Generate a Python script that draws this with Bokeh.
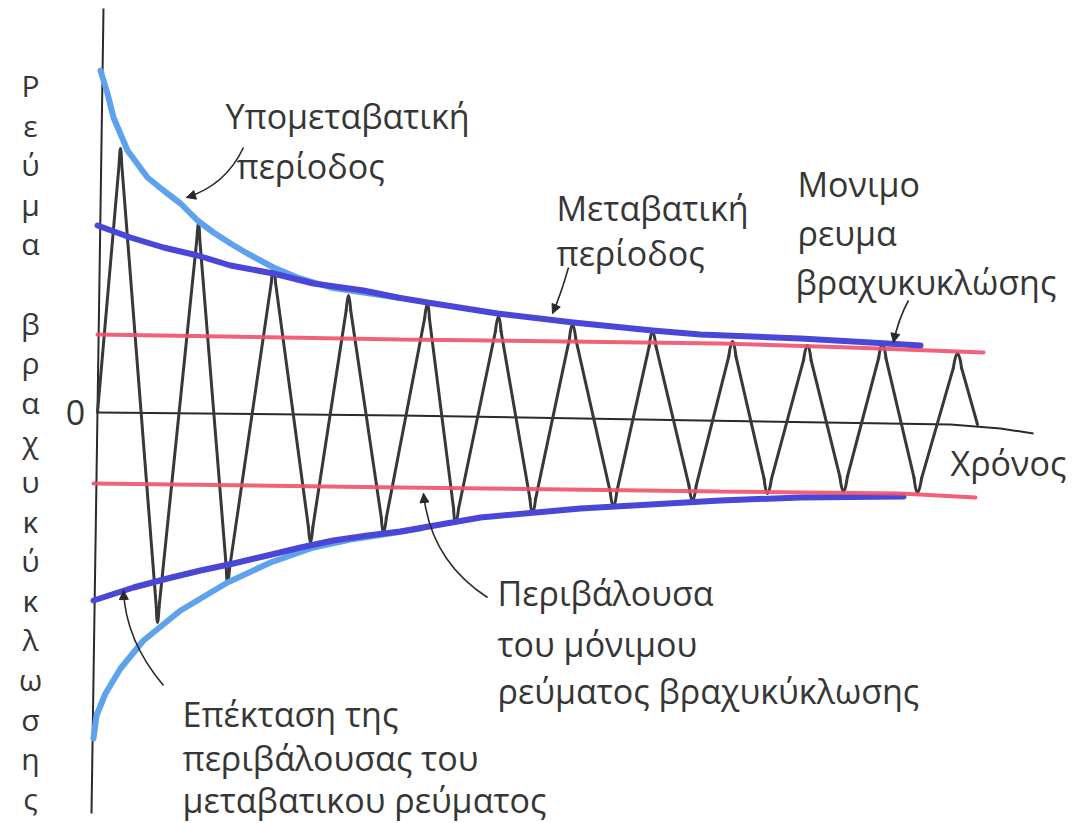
import math
from bokeh.plotting import figure
from bokeh.models import Range1d, Arrow, NormalHead
from bokeh.core.properties import value
from bokeh.embed import file_html
from bokeh.resources import INLINE

# ---- data (time units, current units; 0 = origin of the axes) ----
wave_t = [0, 23, 60, 101, 130, 176, 213, 251, 286, 330, 358, 401, 435, 475, 516,
          555, 595, 635, 670, 710, 746, 785, 820, 860, 880]
wave_i = [0, 264, -210, 189, -170, 145, -130, 117, -120, 109, -111, 96, -101, 88, -94,
          81, -88, 71, -81, 67, -79, 69, -80, 59, -12]

sub_up_t = [3, 10, 16, 30, 50, 66, 83, 100, 116, 133, 150, 176, 200, 233, 266, 300]
sub_up_i = [342, 319, 295, 262, 235, 222, 209, 192, 180, 169, 159, 145, 135, 125, 120, 115]

sub_lo_t = [-4, -1, 8, 23, 46, 83, 130, 173, 216, 253, 286, 323]
sub_lo_i = [-326, -303, -281, -256, -228, -198, -170, -150, -135, -127, -122, -116]

tr_up_t = [0, 33, 66, 100, 133, 176, 216, 266, 300, 330, 400, 476, 555, 603, 703, 773, 823]
tr_up_i = [187, 175, 165, 157, 147, 139, 129, 122, 115, 110, 99, 90, 82, 78, 74, 70, 67]

tr_lo_t = [-4, 36, 70, 103, 136, 170, 203, 236, 270, 303, 383, 483, 623, 703, 806]
tr_lo_i = [-188, -175, -166, -158, -151, -143, -135, -128, -123, -119, -105, -96, -88, -85, -84]

ss_up_t = [0, 303, 623, 753, 886]
ss_up_i = [78, 73, 69, 65, 60]

ss_lo_t = [-4, 303, 623, 803, 878]
ss_lo_i = [-71, -75, -79, -81, -85]

time_axis_t = [0, 303, 603, 853, 903, 936]
time_axis_i = [0, -3, -8, -12, -16, -21]

curr_axis_t = [6, -6]
curr_axis_i = [404, -401]

y_title = ["Ρ", "ε", "ύ", "μ", "α", "", "β", "ρ", "α", "χ", "υ", "κ", "ύ", "κ", "λ", "ω", "σ", "η", "ς"]

labels = ["Υπομεταβατική", "περίοδος", "Μεταβατική", "περίοδος", "Μονιμο", "ρευμα",
          "βραχυκυκλώσης", "Χρόνος", "Περιβάλουσα", "του μόνιμου",
          "ρεύματος βραχυκύκλωσης", "Επέκταση της", "περιβάλουσας του",
          "μεταβατικου ρεύματος"]

# ---- layout ----
label_x = [128, 139, 459, 459, 700, 700, 698, 853, 400, 400, 400, 85, 85, 85]
label_y = [297, 247, 205, 160, 229, 180, 131, -50, -180, -231, -278, -301, -345, -387]

# leader curves: start, control, end
leaders = [
    ((146, 265), (128, 227), (89, 215)),
    ((471, 145), (463, 117), (455, 99)),
    ((811, 112), (801, 94), (796, 70)),
    ((390, -185), (333, -148), (326, -81)),
    ((66, -273), (28, -228), (26, -178)),
]

FONT = value("Open Sans")
FS = "34px"
INK = "#363636"

p = figure(width=1074, height=823, output_backend="svg", toolbar_location=None,
           x_range=Range1d(-97, 977), y_range=Range1d(-411, 412),
           x_axis_type=None, y_axis_type=None, min_border=0,
           background_fill_color="white", border_fill_color="white")
p.grid.visible = False
p.outline_line_color = None

# axes
p.line(curr_axis_t, curr_axis_i, line_color="#2a2a2a", line_width=2)
p.line(time_axis_t, time_axis_i, line_color="#2a2a2a", line_width=2)

# oscillation: straight flanks with rounded tips at every extremum
R = 15.0
seg_x0, seg_y0, seg_x1, seg_y1 = [], [], [], []
qx0, qy0, qx1, qy1, qcx, qcy = [], [], [], [], [], []
prev = (wave_t[0], wave_i[0])
n_pts = len(wave_t)
for k in range(1, n_pts):
    v = (wave_t[k], wave_i[k])
    if k == n_pts - 1:
        seg_x0.append(prev[0]); seg_y0.append(prev[1]); seg_x1.append(v[0]); seg_y1.append(v[1])
        break
    a0 = (wave_t[k - 1], wave_i[k - 1]); b0 = (wave_t[k + 1], wave_i[k + 1])
    da = math.hypot(a0[0] - v[0], a0[1] - v[1]); db = math.hypot(b0[0] - v[0], b0[1] - v[1])
    A = (v[0] + (a0[0] - v[0]) * R / da, v[1] + (a0[1] - v[1]) * R / da)
    B = (v[0] + (b0[0] - v[0]) * R / db, v[1] + (b0[1] - v[1]) * R / db)
    C = (2 * v[0] - (A[0] + B[0]) / 2, 2 * v[1] - (A[1] + B[1]) / 2)
    seg_x0.append(prev[0]); seg_y0.append(prev[1]); seg_x1.append(A[0]); seg_y1.append(A[1])
    qx0.append(A[0]); qy0.append(A[1]); qx1.append(B[0]); qy1.append(B[1]); qcx.append(C[0]); qcy.append(C[1])
    prev = B
p.segment(seg_x0, seg_y0, seg_x1, seg_y1, line_color="#383838", line_width=3, line_cap="round")
p.quadratic(x0=qx0, y0=qy0, x1=qx1, y1=qy1, cx=qcx, cy=qcy, line_color="#383838",
            line_width=3, line_cap="round")

# envelopes
p.line(sub_up_t, sub_up_i, line_color="#5ea2ee", line_width=6, line_join="round", line_cap="round")
p.line(sub_lo_t, sub_lo_i, line_color="#5ea2ee", line_width=6, line_join="round", line_cap="round")
p.line(tr_up_t, tr_up_i, line_color="#4a46d8", line_width=6, line_join="round", line_cap="round")
p.line(tr_lo_t, tr_lo_i, line_color="#4a46d8", line_width=6, line_join="round", line_cap="round")
p.line(ss_up_t, ss_up_i, line_color="#f0506c", line_width=4, line_alpha=0.9, line_cap="round")
p.line(ss_lo_t, ss_lo_i, line_color="#f0506c", line_width=4, line_alpha=0.9, line_cap="round")

# leader curves with arrow heads
for (s, c, e) in leaders:
    p.quadratic(x0=[s[0]], y0=[s[1]], x1=[e[0]], y1=[e[1]], cx=[c[0]], cy=[c[1]],
                line_color="#2a2a2a", line_width=1.6)
    dx, dy = c[0] - e[0], c[1] - e[1]
    n = math.hypot(dx, dy)
    p.add_layout(Arrow(end=NormalHead(size=9, fill_color="#2a2a2a", line_color="#2a2a2a"),
                       x_start=e[0] + dx / n * 10, y_start=e[1] + dy / n * 10,
                       x_end=e[0], y_end=e[1], line_alpha=0))

# texts
p.text(x=label_x, y=label_y, text=labels, text_font=FONT, text_font_size=FS,
       text_color=INK, text_baseline="middle", text_align="left")
p.text(x=[-22], y=[0], text=["0"], text_font=FONT, text_font_size=FS,
       text_color=INK, text_baseline="middle", text_align="center")
yt_y = [327 - 39.6 * k for k in range(len(y_title))]
p.text(x=[-67] * len(y_title), y=yt_y, text=y_title, text_font=FONT, text_font_size="30px",
       text_color=INK, text_baseline="middle", text_align="center")

open("out.html", "w").write(file_html(p, INLINE))
